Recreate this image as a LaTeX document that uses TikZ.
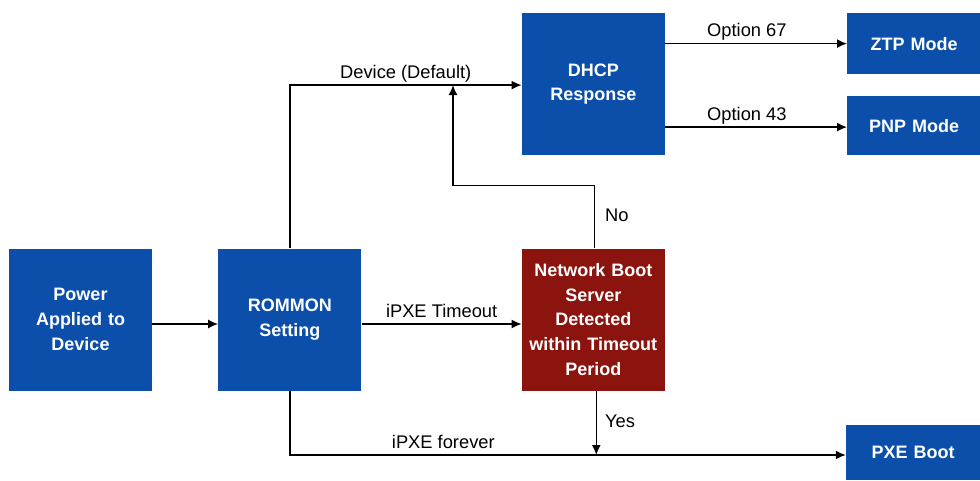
\documentclass[tikz,border=0pt]{standalone}
\usepackage{fontspec}
\setmainfont{Liberation Sans}
\usepackage{tikz}
\usetikzlibrary{positioning, arrows.meta}
\definecolor{bootblue}{RGB}{11,79,170}
\definecolor{bootred}{RGB}{139,20,15}
\tikzstyle{process} = [rectangle, minimum width=143pt, minimum height=142pt, inner sep=0pt, text centered, text width=138pt, fill=bootblue, text=white, font=\fontsize{18}{24.7}\selectfont\bfseries]
\tikzstyle{decision} = [process, fill=bootred]
\tikzstyle{mode} = [process, minimum width=134pt, minimum height=60pt, text width=130pt]
\tikzstyle{edgetext} = [font=\fontsize{18.3}{21}\selectfont, inner sep=2pt, text height=13pt, text depth=4pt]
\tikzstyle{arrow} = [line width=1.5pt, -{Latex[length=10pt, width=9pt]}]

\begin{document}
\begin{tikzpicture}[x=1pt, y=-1pt]
        \useasboundingbox (0,0) rectangle (980,480);
        \node (power) [process] at (80.5,319.5) {Power\\Applied to\\Device};
        \node (rommon) [process, right=66pt of power] {ROMMON\\Setting};
        \node (netboot) [decision, right=160pt of rommon] {Network Boot\\Server\\Detected\\within Timeout\\Period};
        \node (dhcp) [process, above=93pt of netboot] {DHCP\\Response};
        \node (ztp) [mode, minimum height=61pt, right=182pt of dhcp.north east, anchor=north west] {ZTP Mode};
        \node (pnp) [mode, minimum height=59pt, right=182pt of dhcp.south east, anchor=south west] {PNP Mode};
        \node (pxe) [mode, minimum height=55pt] at (913,452.5) {PXE Boot};
        \coordinate (nojoin) at (453,85);
        \coordinate (yesjoin) at ([xshift=3pt]netboot.south |- pxe.west);

        \draw [arrow] ([yshift=-4.5pt]power.east) -- ([yshift=-4.5pt]rommon.west);
        \draw [arrow] ([yshift=-4.5pt]rommon.east) -- node[edgetext, above] {iPXE Timeout} ([yshift=-4.5pt]netboot.west);
        \draw [arrow] (rommon.north) |- node[edgetext, above, pos=0.75] {Device (Default)} ([yshift=-1pt]dhcp.west);
        \draw [arrow] ([xshift=1pt]netboot.north) -- node[edgetext, right=8pt] {No} ++(0,-63) -| (nojoin);
        \draw [arrow] (dhcp.east |- ztp) -- node[edgetext, above, pos=0.45] {Option 67} (ztp);
        \draw [arrow] ([yshift=-1.5pt]dhcp.east |- pnp) -- node[edgetext, above, pos=0.45] {Option 43} ([yshift=-1.5pt]pnp.west);
        \draw [arrow] (rommon.south) |- node[edgetext, above, pos=0.638] {iPXE forever} ([yshift=-2.5pt]pxe.west);
        \draw [arrow] ([xshift=3pt]netboot.south) -- node[edgetext, right=6pt] {Yes} ([yshift=-2.5pt]yesjoin);
    \end{tikzpicture}
\end{document}
